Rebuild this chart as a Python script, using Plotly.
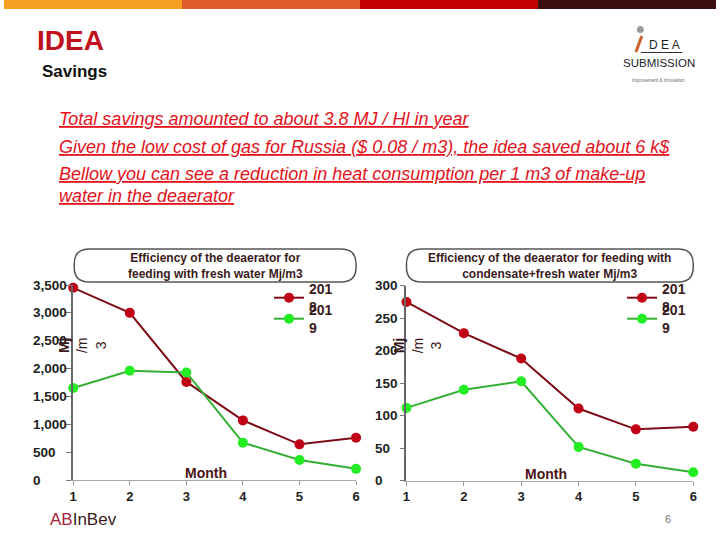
import plotly.graph_objects as go

W, H = 720, 540

# ---------------- data ----------------
months = [1, 2, 3, 4, 5, 6]
series_names = ["2018", "2019"]
fresh_2018 = [3450, 3000, 1760, 1070, 640, 760]
fresh_2019 = [1650, 1960, 1930, 670, 360, 200]
cond_2018 = [275, 227, 188, 111, 79, 83]
cond_2019 = [112, 140, 153, 52, 26, 13]
fresh_ticks = [0, 500, 1000, 1500, 2000, 2500, 3000, 3500]
cond_ticks = [0, 50, 100, 150, 200, 250, 300]
left_title = "Efficiency of the deaerator for<br>feeding with fresh water Mj/m3"
right_title = "Efficiency of the deaerator for feeding with<br>condensate+fresh water Mj/m3"
bullets = [
    "Total savings amounted to about 3.8 MJ / Hl in year",
    "Given the low cost of gas for Russia ($ 0.08 / m3), the idea saved about 6 k$",
    "Bellow you can see a reduction in heat consumption per 1 m3 of make-up",
    "water in the deaerator",
]

FONT = "Liberation Sans, Arial, sans-serif"
RED_M, RED_L = "#c00014", "#7d0c16"
GRN_M, GRN_L = "#22ec22", "#33b033"
DARK = "#3a1a1a"


def px(x):
    return x / W


def py(y):
    return 1 - y / H


def wrap(n):
    return n[:3] + "<br>" + n[3:]


fig = go.Figure()

sets = [
    (fresh_2018, "x", "y", RED_M, RED_L, series_names[0], "legend"),
    (fresh_2019, "x", "y", GRN_M, GRN_L, series_names[1], "legend2"),
    (cond_2018, "x2", "y2", RED_M, RED_L, series_names[0], "legend3"),
    (cond_2019, "x2", "y2", GRN_M, GRN_L, series_names[1], "legend4"),
]
for vals, xa, ya, mc, lc, nm, lg in sets:
    fig.add_trace(go.Scatter(
        x=months, y=vals, xaxis=xa, yaxis=ya, mode="lines+markers",
        name=wrap(nm), legend=lg, cliponaxis=False,
        line=dict(color=lc, width=2),
        marker=dict(color=mc, size=10, line=dict(width=0)),
    ))

axis_x = dict(range=[1, 6], tickvals=months, ticks="outside", ticklen=4,
              tickcolor="#999", showline=True, linecolor="#aaa", linewidth=1,
              showgrid=False, zeroline=False,
              tickfont=dict(family=FONT, size=13, color="#222", weight="bold"))
axis_y = dict(ticks="outside", ticklen=5, tickcolor="#777", showline=True,
              linecolor="#666", linewidth=1.5, showgrid=False, zeroline=False,
              showticklabels=False)

fig.update_layout(
    width=W, height=H, margin=dict(l=0, r=0, t=0, b=0),
    paper_bgcolor="white", plot_bgcolor="white", showlegend=True,
    xaxis=dict(axis_x, domain=[px(70), px(356)], anchor="y"),
    yaxis=dict(axis_y, domain=[py(480), py(285)], range=[0, 3500],
               tickvals=fresh_ticks, anchor="x"),
    xaxis2=dict(axis_x, domain=[px(407), px(697)], anchor="y2"),
    yaxis2=dict(axis_y, domain=[py(480.7), py(285.7)], range=[0, 300],
                tickvals=cond_ticks, anchor="x2"),
)

leg_common = dict(bgcolor="rgba(0,0,0,0)", borderwidth=0, xanchor="left",
                  yanchor="middle", valign="middle", itemwidth=30,
                  font=dict(family=FONT, size=14, color=DARK, weight="bold"))
fig.update_layout(
    legend=dict(leg_common, x=px(268), y=py(298)),
    legend2=dict(leg_common, x=px(268), y=py(319)),
    legend3=dict(leg_common, x=px(625), y=py(298)),
    legend4=dict(leg_common, x=px(625), y=py(319)),
)

ann = []


def note(x, y, text, font, xanchor="center", yanchor="middle", **kw):
    d = dict(x=px(x), y=py(y), xref="paper", yref="paper", xanchor=xanchor,
             yanchor=yanchor, showarrow=False, text=text, font=font)
    d.update(kw)
    ann.append(d)


tickfont = dict(family=FONT, size=13.5, color="#222", weight="bold")
# y tick labels (left aligned as in the reference)
for v in fresh_ticks:
    ann.append(dict(x=px(27), xref="paper", y=v, yref="y", xanchor="left",
                    yanchor="middle", showarrow=False, text=f"{v:,}", font=tickfont))
for v in cond_ticks:
    ann.append(dict(x=px(373), xref="paper", y=v, yref="y2", xanchor="left",
                    yanchor="middle", showarrow=False, text=f"{v:,}", font=tickfont))

# axis titles
for cx in (79, 418):
    note(cx, 345, "<b>Mj</b><br>/m<br>3", dict(family=FONT, size=14, color=DARK),
         textangle=-90)
for cx, cy in ((204, 473), (548, 474)):
    note(cx, cy, "Month", dict(family=FONT, size=14, color="#4a1414", weight="bold"))

# chart titles
for cx, t in ((213.5, left_title), (552, right_title)):
    note(cx, 265.5, t, dict(family=FONT, size=12, color=DARK, weight="bold"),
         align="center")

# header
note(31, 40, "IDEA", dict(family=FONT, size=28, color="#c0121c", weight="bold"),
     xanchor="left")
note(36, 72, "Savings", dict(family=FONT, size=17, color="#111", weight="bold"),
     xanchor="left")

# bullets
for t, yy in zip(bullets, (119, 147, 174, 196)):
    note(54, yy, t, dict(family=FONT, size=18, color="#e3121b", style="italic",
                         lineposition="under"), xanchor="left")

# logo top-right
note(668, 45, "D E A", dict(family=FONT, size=12, color="#222"))
note(662, 63, "SUBMISSION", dict(family=FONT, size=11.5, color="#222"))
note(662, 80, "Improvement &amp; Innovation", dict(family=FONT, size=4.5, color="#666"))
# bottom
note(44, 519, "<span style='color:#a8203a'>AB</span>InBev",
     dict(family=FONT, size=17, color="#3b1b1b"), xanchor="left")
note(671, 519, "6", dict(family=FONT, size=11, color="#777"))
fig.update_layout(annotations=ann)


def pill(x0, y0, x1, y1, r):
    def P(x, y):
        return f"{px(x):.5f},{py(y):.5f}"
    return (f"M{P(x0 + r, y0)} L{P(x1 - r, y0)} Q{P(x1, y0)} {P(x1, y0 + r)} "
            f"L{P(x1, y1 - r)} Q{P(x1, y1)} {P(x1 - r, y1)} L{P(x0 + r, y1)} "
            f"Q{P(x0, y1)} {P(x0, y1 - r)} L{P(x0, y0 + r)} Q{P(x0, y0)} {P(x0 + r, y0)} Z")


shapes = []
bar_colors = ["#f5a020", "#e05a2a", "#c40000", "#3c1010"]
for i, c in enumerate(bar_colors):
    shapes.append(dict(type="rect", xref="paper", yref="paper",
                       x0=px(i * 180), x1=px((i + 1) * 180), y0=py(9), y1=py(0),
                       fillcolor=c, line=dict(width=0), layer="above"))
for x0, x1 in ((71, 356), (407, 697)):
    shapes.append(dict(type="path", xref="paper", yref="paper",
                       path=pill(x0, 249, x1, 282, 15),
                       line=dict(color="#555", width=1.5), fillcolor="rgba(0,0,0,0)"))
# logo marks
shapes.append(dict(type="line", xref="paper", yref="paper", x0=px(644), x1=px(686),
                   y0=py(52.5), y1=py(52.5), line=dict(color="#333", width=1)))
shapes.append(dict(type="line", xref="paper", yref="paper", x0=px(639), x1=px(645),
                   y0=py(52), y1=py(36), line=dict(color="#c9632c", width=3)))
shapes.append(dict(type="circle", xref="paper", yref="paper", x0=px(640), x1=px(647),
                   y0=py(33), y1=py(26), fillcolor="#9a9a9a", line=dict(width=0)))
fig.update_layout(shapes=shapes)

fig.write_html("out.html", config={"displayModeBar": False},
               post_script="document.body.style.margin='0';"
                           "document.body.style.overflow='hidden';")
